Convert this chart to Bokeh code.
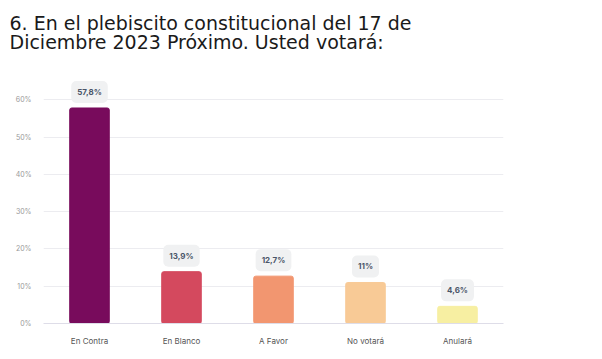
from bokeh.plotting import figure
from bokeh.models import ColumnDataSource, Title, FixedTicker, PrintfTickFormatter, Range1d
from bokeh.core.properties import value
from bokeh.embed import file_html
from bokeh.resources import INLINE

title_text = "6. En el plebiscito constitucional del 17 de\nDiciembre 2023 Próximo. Usted votará:"
categories = ["En Contra", "En Blanco", "A Favor", "No votará", "Anulará"]
values = [57.8, 13.9, 12.7, 11.0, 4.6]
value_labels = ["57,8%", "13,9%", "12,7%", "11%", "4,6%"]
colors = ["#780b5c", "#d4495e", "#f29670", "#f8ca96", "#f7efa2"]
y_ticks = [0, 10, 20, 30, 40, 50, 60]

src = ColumnDataSource(dict(cat=categories, val=values, lab=value_labels, col=colors))

p = figure(frame_width=460, frame_height=261, x_range=categories, y_range=Range1d(0, 70),
           output_backend="svg", toolbar_location=None,
           min_border_left=43, min_border_right=83, min_border_bottom=20, min_border_top=40)
p.outline_line_color = None

p.add_layout(Title(text=title_text, text_font="DejaVu Sans",
                   text_font_size="19px", text_font_style="normal", text_color="#1a1a1a",
                   text_line_height=0.9, align="left", offset=-34, standoff=18), "above")

p.vbar(x="cat", top="val", width=0.43, color="col", source=src, border_radius=2)

p.text(x="cat", y="val", text="lab", source=src, y_offset=-16,
       text_align="center", text_baseline="middle",
       text_font=value("Inter"), text_font_size="8px", text_font_style="bold",
       text_color="#4a5568", background_fill_color="#f0f1f2",
       padding=6, border_radius=5)

p.yaxis.ticker = FixedTicker(ticks=y_ticks)
p.yaxis.formatter = PrintfTickFormatter(format="%d%%")
p.yaxis.axis_line_color = None
p.yaxis.major_tick_line_color = None
p.yaxis.minor_tick_line_color = None
p.yaxis.major_tick_out = 0
p.yaxis.major_tick_in = 0
p.yaxis.major_label_text_font = "Inter"
p.yaxis.major_label_text_font_size = "7px"
p.yaxis.major_label_text_color = "#999999"
p.yaxis.major_label_standoff = 12

p.xaxis.axis_line_color = "#dedde8"
p.xaxis.axis_line_width = 1
p.xaxis.major_tick_line_color = None
p.xaxis.minor_tick_line_color = None
p.xaxis.major_tick_out = 0
p.xaxis.major_tick_in = 0
p.xaxis.major_label_text_font = "Inter"
p.xaxis.major_label_text_font_size = "8px"
p.xaxis.major_label_text_color = "#555555"
p.xaxis.major_label_standoff = 12

p.xgrid.grid_line_color = None
p.ygrid.grid_line_color = "#ececf0"

open("out.html", "w").write(file_html(p, INLINE))
